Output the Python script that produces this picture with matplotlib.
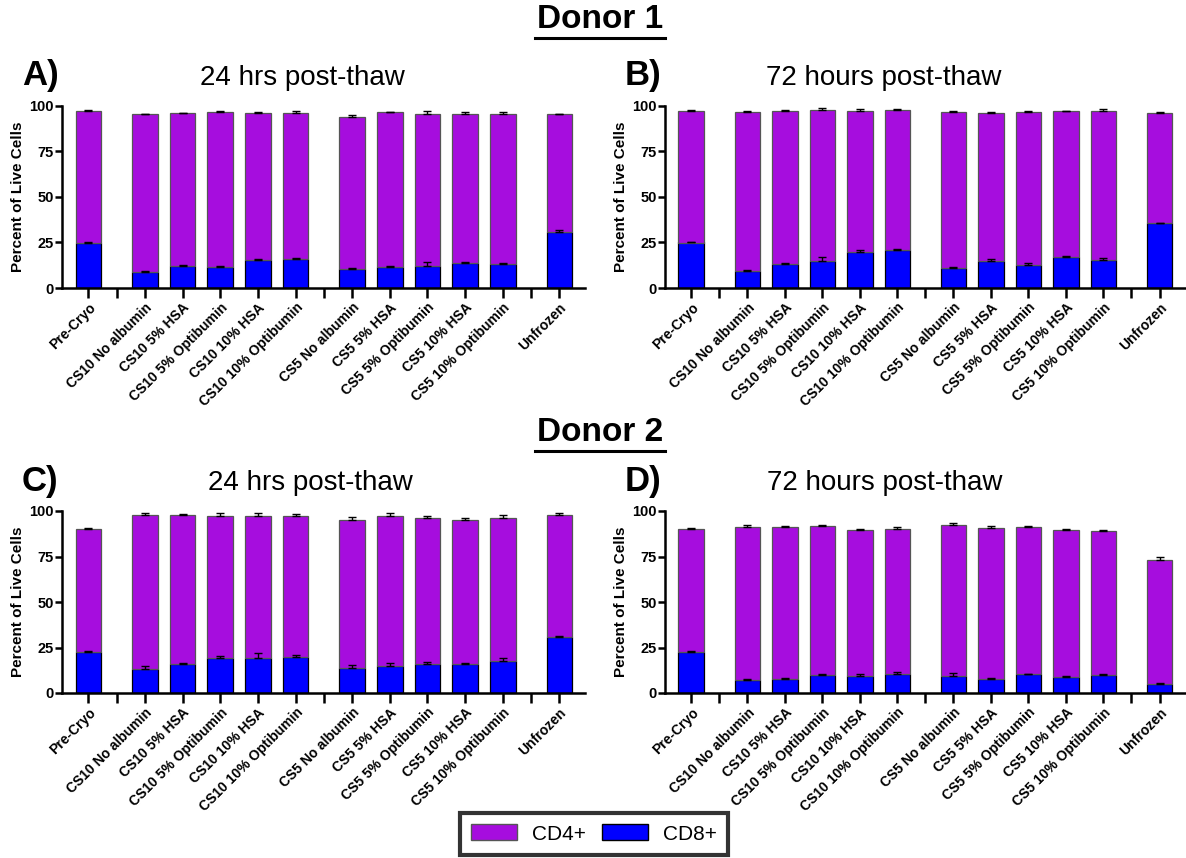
import matplotlib
matplotlib.use("Agg")
import matplotlib.pyplot as plt
import matplotlib.patches as mpatches
import numpy as np

plt.rcParams['font.family'] = ['Liberation Sans', 'DejaVu Sans']

conditions = ["Pre-Cryo",
              "CS10 No albumin", "CS10 5% HSA", "CS10 5% Optibumin", "CS10 10% HSA", "CS10 10% Optibumin",
              "CS5 No albumin", "CS5 5% HSA", "CS5 5% Optibumin", "CS5 10% HSA", "CS5 10% Optibumin",
              "Unfrozen"]

# Donor 1, 24 hrs
a_cd8 = [24.8, 9.0, 11.9, 11.7, 15.2, 15.8, 10.6, 11.7, 11.9, 13.9, 13.0, 30.8]
a_cd4 = [72.6, 86.4, 84.1, 84.8, 80.8, 80.2, 83.5, 84.8, 83.5, 81.5, 82.4, 64.6]
a_err8 = [0.3, 0.5, 0.9, 0.4, 0.7, 0.9, 0.5, 0.4, 2.4, 0.5, 0.9, 0.9]
a_err4 = [0.3, 0.4, 0.3, 0.5, 0.5, 1.1, 0.7, 0.4, 1.8, 1.2, 1.3, 0.4]

# Donor 1, 72 hours
b_cd8 = [25.0, 9.4, 13.0, 15.0, 19.8, 20.9, 11.2, 15.0, 12.8, 17.3, 15.5, 35.5]
b_cd4 = [72.4, 87.5, 84.2, 82.6, 77.4, 77.1, 85.3, 81.3, 83.7, 79.7, 81.7, 60.8]
b_err8 = [0.3, 0.5, 0.9, 2.0, 0.9, 0.5, 0.5, 0.7, 0.9, 0.5, 0.9, 0.4]
b_err4 = [0.3, 0.3, 0.5, 1.5, 0.9, 0.5, 0.7, 0.3, 0.5, 0.4, 1.3, 0.3]

# Donor 2, 24 hrs
c_cd8 = [22.8, 13.4, 15.8, 19.4, 19.4, 20.0, 14.0, 15.0, 15.8, 15.8, 17.6, 30.8]
c_cd4 = [67.2, 84.6, 81.8, 78.0, 77.7, 77.1, 81.0, 82.2, 80.2, 79.4, 78.5, 66.8]
c_err8 = [0.5, 1.3, 0.7, 0.9, 2.5, 1.1, 1.5, 1.3, 1.1, 0.9, 1.7, 0.6]
c_err4 = [0.7, 1.1, 0.6, 1.3, 1.6, 1.3, 1.5, 1.5, 1.1, 0.7, 1.5, 1.1]

# Donor 2, 72 hours
d_cd8 = [22.8, 7.2, 7.9, 9.7, 9.5, 10.6, 9.5, 7.9, 10.3, 8.8, 9.7, 5.1]
d_cd4 = [67.2, 84.0, 83.1, 81.9, 79.9, 79.3, 82.8, 82.7, 80.7, 80.7, 79.3, 68.1]
d_err8 = [0.4, 0.3, 0.4, 0.9, 0.7, 0.9, 1.3, 0.5, 0.4, 0.7, 0.7, 0.6]
d_err4 = [0.9, 1.3, 0.5, 0.9, 0.9, 1.1, 1.3, 1.1, 0.5, 0.7, 0.4, 1.8]

CD4_COLOR = '#A60DDE'
CD8_COLOR = '#0000FF'

# bar positions: groups separated by half-width gaps with an empty tick
group_sizes = [1, 5, 5, 1]
positions = []
gap_ticks = []
x = 0.0
for gi, n in enumerate(group_sizes):
    for k in range(n):
        positions.append(x)
        x += 1.0
    if gi < len(group_sizes) - 1:
        gap_ticks.append(x - 0.25)
        x += 0.5
positions = np.array(positions)

W, H = 1186.0, 858.0


def draw_panel(ax, cd8, cd4, err8, err4, title, letter, title_x):
    cd8 = np.array(cd8)
    cd4 = np.array(cd4)
    w = 0.68
    ax.bar(positions, cd8, width=w, color=CD8_COLOR, edgecolor='black', linewidth=0.9, zorder=2)
    ax.bar(positions, cd4, width=w, bottom=cd8, color=CD4_COLOR, edgecolor='#555555', linewidth=0.9, zorder=2)
    ax.errorbar(positions, cd8, yerr=[np.zeros(len(cd8)), err8], fmt='none',
                ecolor='black', elinewidth=1, capsize=3, capthick=1, zorder=3)
    ax.errorbar(positions, cd8 + cd4, yerr=[np.zeros(len(cd4)), err4], fmt='none',
                ecolor='black', elinewidth=1, capsize=3, capthick=1, zorder=3)

    ticks = sorted(list(positions) + gap_ticks)
    labels = []
    for t in ticks:
        if t in gap_ticks:
            labels.append("")
        else:
            labels.append(conditions[list(positions).index(t)])
    ax.set_xticks(ticks)
    ax.set_xticklabels(labels, rotation=45, ha='right', rotation_mode='anchor',
                       fontsize=10, fontweight='bold')
    ax.set_xlim(-0.7, 13.18)
    ax.set_ylim(0, 100)
    ax.set_yticks([0, 25, 50, 75, 100])
    ax.set_yticklabels(["0", "25", "50", "75", "100"], fontsize=10.5, fontweight='bold')
    ax.set_ylabel("Percent of Live Cells", fontsize=11, fontweight='bold', labelpad=3)

    for s in ['top', 'right']:
        ax.spines[s].set_visible(False)
    for s in ['left', 'bottom']:
        ax.spines[s].set_linewidth(1.8)
    ax.tick_params(axis='x', length=7, width=1.8, pad=2)
    ax.tick_params(axis='y', length=5, width=1.8, pad=1)

    pos = ax.get_position()
    fig.text(title_x / W, pos.y1 + 28 / H, title, fontsize=20, ha='center', va='center')
    fig.text(pos.x0 - 40 / W, pos.y1 + 30 / H, letter, fontsize=25,
             fontweight='bold', ha='left', va='center')


fig = plt.figure(figsize=(11.86, 8.58), dpi=100)

axA = fig.add_axes([62 / W, (H - 288) / H, (585 - 62) / W, 182 / H])
axB = fig.add_axes([665 / W, (H - 288) / H, (1185 - 665) / W, 182 / H])
axC = fig.add_axes([62 / W, (H - 693) / H, (585 - 62) / W, 182 / H])
axD = fig.add_axes([665 / W, (H - 693) / H, (1185 - 665) / W, 182 / H])

draw_panel(axA, a_cd8, a_cd4, a_err8, a_err4, "24 hrs post-thaw", "A)", 302)
draw_panel(axB, b_cd8, b_cd4, b_err8, b_err4, "72 hours post-thaw", "B)", 884)
draw_panel(axC, c_cd8, c_cd4, c_err8, c_err4, "24 hrs post-thaw", "C)", 310)
draw_panel(axD, d_cd8, d_cd4, d_err8, d_err4, "72 hours post-thaw", "D)", 885)

fig.text(600 / W, 1 - 20 / H, "Donor 1", fontsize=24, fontweight='bold',
         ha='center', va='center')
fig.text(600 / W, 1 - 433 / H, "Donor 2", fontsize=24, fontweight='bold',
         ha='center', va='center')
# underlines for the donor headings
for yy in [38, 451]:
    fig.add_artist(plt.Line2D([535 / W, 665 / W], [1 - yy / H, 1 - yy / H],
                              color='black', linewidth=2.2))

handles = [mpatches.Patch(facecolor=CD4_COLOR, edgecolor='#555555', label='CD4+'),
           mpatches.Patch(facecolor=CD8_COLOR, edgecolor='black', label='CD8+')]
leg = fig.legend(handles=handles, loc='center', bbox_to_anchor=(594 / W, 1 - 834 / H),
                 ncol=2, fontsize=15, frameon=True, fancybox=False,
                 handlelength=2.2, handleheight=0.8, columnspacing=0.8,
                 borderpad=0.55, handletextpad=0.7, borderaxespad=0)
leg.get_frame().set_edgecolor('black')
leg.get_frame().set_linewidth(3)

fig.savefig("out.png", dpi=100)
